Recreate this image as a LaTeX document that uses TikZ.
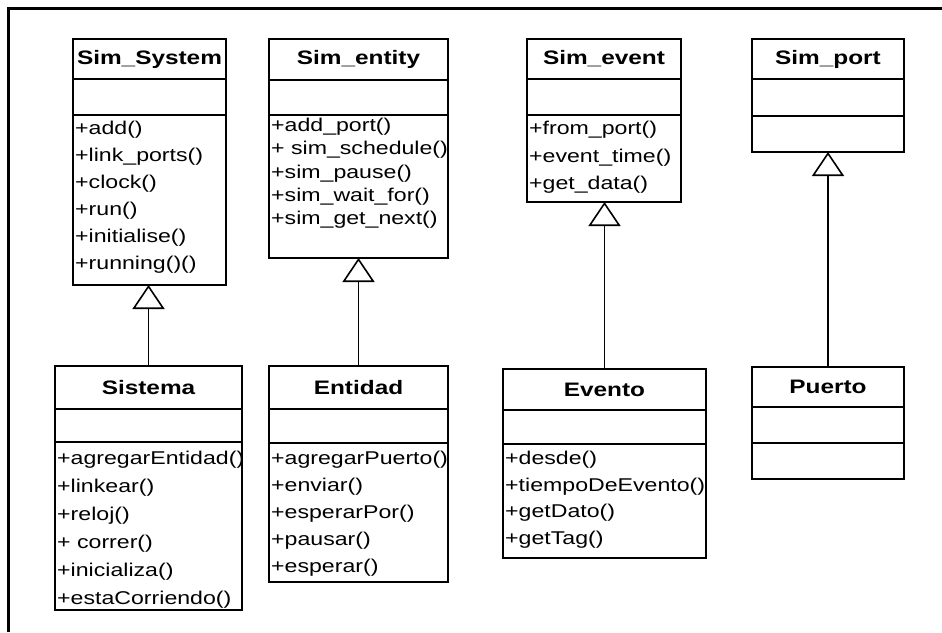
\documentclass[tikz,border=0pt]{standalone}
\usepackage{fontspec}
\setmainfont[FakeStretch=1.25]{Liberation Sans}
\usetikzlibrary{arrows.meta}
\begin{document}
\begin{tikzpicture}[x=1pt,y=-1pt,
  box/.style={draw,line width=1.7pt,anchor=north west,inner sep=0pt,outer sep=0pt},
  div/.style={line width=1.7pt},
  ttl/.style={font=\fontsize{19.5}{21}\selectfont\bfseries,inner sep=0pt,anchor=center},
  op/.style={font=\fontsize{18.5}{20}\selectfont,inner sep=0pt,anchor=base west},
  gen/.style={line width=1.8pt,-{Triangle[open,length=24pt,width=32pt,line width=1.6pt]}},
  frame/.style={line width=3pt}]
\useasboundingbox (0,0) rectangle (942,632);
% outer frame (top and left edges)
\draw[frame] (8,632) -- (8,8) -- (942,8);

% ---------- Sim_System ----------
\node[box,minimum width=153pt,minimum height=246pt] (simsystem) at (73,39) {};
\draw[div] ([yshift=-40pt]simsystem.north west) -- ([yshift=-40pt]simsystem.north east);
\draw[div] ([yshift=-76pt]simsystem.north west) -- ([yshift=-76pt]simsystem.north east);
\node[ttl] (simsystemT) at (149.5,59) {Sim\_System};
\foreach \t [count=\i] in {+add(),+link\_ports(),+clock(),+run(),+initialise(),+running()()}
  \node[op] (ss\i) at (75,{134.5+27*(\i-1)}) {\t};

% ---------- Sim_entity ----------
\node[box,minimum width=179pt,minimum height=219pt] (simentity) at (269,39) {};
\draw[div] ([yshift=-41pt]simentity.north west) -- ([yshift=-41pt]simentity.north east);
\draw[div] ([yshift=-76pt]simentity.north west) -- ([yshift=-76pt]simentity.north east);
\node[ttl] (simentityT) at (358.5,59.5) {Sim\_entity};
\foreach \t [count=\i] in {+add\_port(),+ sim\_schedule(),+sim\_pause(),+sim\_wait\_for(),+sim\_get\_next()}
  \node[op] (se\i) at (271,{131.5+23.3*(\i-1)}) {\t};

% ---------- Sim_event ----------
\node[box,minimum width=154pt,minimum height=163pt] (simevent) at (527,39) {};
\draw[div] ([yshift=-40pt]simevent.north west) -- ([yshift=-40pt]simevent.north east);
\draw[div] ([yshift=-76pt]simevent.north west) -- ([yshift=-76pt]simevent.north east);
\node[ttl] (simeventT) at (604,59) {Sim\_event};
\foreach \t [count=\i] in {+from\_port(),+event\_time(),+get\_data()}
  \node[op] (sv\i) at (529,{134.5+27.5*(\i-1)}) {\t};

% ---------- Sim_port ----------
\node[box,minimum width=152pt,minimum height=113pt] (simport) at (752,39) {};
\draw[div] ([yshift=-40pt]simport.north west) -- ([yshift=-40pt]simport.north east);
\draw[div] ([yshift=-77pt]simport.north west) -- ([yshift=-77pt]simport.north east);
\node[ttl] (simportT) at (828,59) {Sim\_port};

% ---------- Sistema ----------
\node[box,minimum width=187pt,minimum height=244pt] (sistema) at (55,366) {};
\draw[div] ([yshift=-43pt]sistema.north west) -- ([yshift=-43pt]sistema.north east);
\draw[div] ([yshift=-76pt]sistema.north west) -- ([yshift=-76pt]sistema.north east);
\node[ttl] (sistemaT) at (148.5,387.5) {Sistema};
\foreach \t [count=\i] in {+agregarEntidad(),+linkear(),+reloj(),+ correr(),+inicializa(),+estaCorriendo()}
  \node[op] (si\i) at (57,{464.5+28*(\i-1)}) {\t};

% ---------- Entidad ----------
\node[box,minimum width=179pt,minimum height=216pt] (entidad) at (269,366) {};
\draw[div] ([yshift=-43pt]entidad.north west) -- ([yshift=-43pt]entidad.north east);
\draw[div] ([yshift=-77pt]entidad.north west) -- ([yshift=-77pt]entidad.north east);
\node[ttl] (entidadT) at (358.5,387.5) {Entidad};
\foreach \t [count=\i] in {+agregarPuerto(),+enviar(),+esperarPor(),+pausar(),+esperar()}
  \node[op] (en\i) at (271,{464.5+27*(\i-1)}) {\t};

% ---------- Evento ----------
\node[box,minimum width=203pt,minimum height=189pt] (evento) at (503,369) {};
\draw[div] ([yshift=-41pt]evento.north west) -- ([yshift=-41pt]evento.north east);
\draw[div] ([yshift=-75pt]evento.north west) -- ([yshift=-75pt]evento.north east);
\node[ttl] (eventoT) at (604.5,389.5) {Evento};
\foreach \t [count=\i] in {+desde(),+tiempoDeEvento(),+getDato(),+getTag()}
  \node[op] (ev\i) at (505,{464.5+26.7*(\i-1)}) {\t};

% ---------- Puerto ----------
\node[box,minimum width=152pt,minimum height=112pt] (puerto) at (752,367) {};
\draw[div] ([yshift=-40pt]puerto.north west) -- ([yshift=-40pt]puerto.north east);
\draw[div] ([yshift=-76pt]puerto.north west) -- ([yshift=-76pt]puerto.north east);
\node[ttl] (puertoT) at (828,387) {Puerto};

% ---------- generalizations ----------
\draw[gen] (sistema.north) -- (sistema.north |- simsystem.south);
\draw[gen] (entidad.north) -- (entidad.north |- simentity.south);
\draw[gen] (evento.north) -- (evento.north |- simevent.south);
\draw[gen] (puerto.north) -- (puerto.north |- simport.south);
\end{tikzpicture}
\end{document}
